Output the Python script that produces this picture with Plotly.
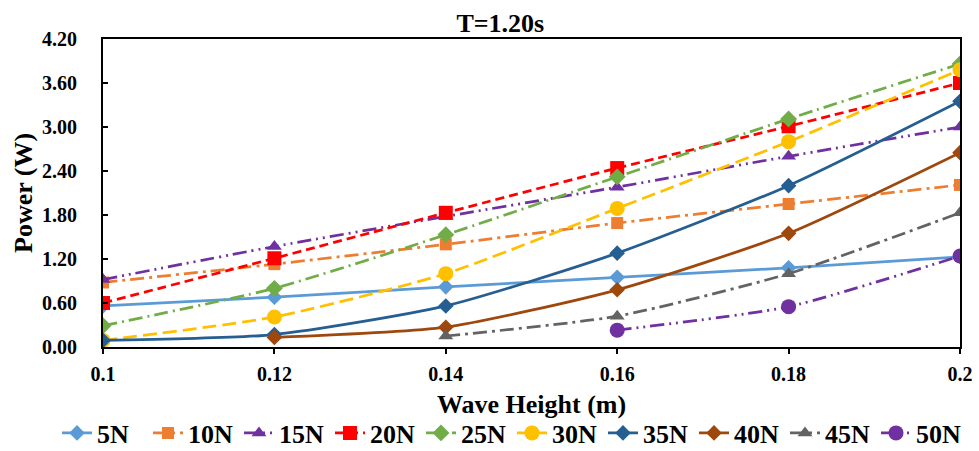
import plotly.graph_objects as go

# Wave heights (m) and power output (W) for each damping force
wave_height = [0.10, 0.12, 0.14, 0.16, 0.18, 0.20]

p_5n = [0.56, 0.68, 0.82, 0.95, 1.08, 1.23]
p_10n = [0.88, 1.13, 1.40, 1.69, 1.95, 2.21]
p_15n = [0.92, 1.37, 1.78, 2.18, 2.60, 3.00]
p_20n = [0.60, 1.21, 1.83, 2.44, 3.01, 3.60]
p_25n = [0.29, 0.80, 1.53, 2.32, 3.11, 3.86]
p_30n = [0.09, 0.41, 1.00, 1.89, 2.80, 3.78]
p_35n = [0.09, 0.17, 0.56, 1.28, 2.20, 3.35]
h_40n = [0.12, 0.14, 0.16, 0.18, 0.20]
p_40n = [0.13, 0.27, 0.78, 1.55, 2.65]
h_45n = [0.14, 0.16, 0.18, 0.20]
p_45n = [0.15, 0.42, 1.00, 1.83]
h_50n = [0.16, 0.18, 0.20]
p_50n = [0.23, 0.55, 1.24]

y_ticks = [0.0, 0.6, 1.2, 1.8, 2.4, 3.0, 3.6, 4.2]
x_ticks = [0.10, 0.12, 0.14, 0.16, 0.18, 0.20]
x_tick_text = ["0.1", "0.12", "0.14", "0.16", "0.18", "0.2"]

series = [
    ("5N", wave_height, p_5n, "#5B9BD5", "diamond", "solid", 12),
    ("10N", wave_height, p_10n, "#ED7D31", "square", "14px,5px,3px,5px", 12),
    ("15N", wave_height, p_15n, "#7030A0", "triangle-up", "14px,5px,2px,5px,2px,5px", 13),
    ("20N", wave_height, p_20n, "#FF0000", "square", "9px,5px", 14),
    ("25N", wave_height, p_25n, "#70AD47", "diamond", "14px,5px,2px,5px", 13),
    ("30N", wave_height, p_30n, "#FFC000", "circle", "14px,6px", 15),
    ("35N", wave_height, p_35n, "#255E91", "diamond", "solid", 12),
    ("40N", h_40n, p_40n, "#9E480E", "diamond", "solid", 12),
    ("45N", h_45n, p_45n, "#636363", "triangle-up", "14px,5px,3px,5px", 13),
    ("50N", h_50n, p_50n, "#7030A0", "circle", "14px,5px,2px,5px,2px,5px", 15),
]

W, H = 979, 451
M_L, M_R, M_T, M_B = 103, 19, 39, 104
plot_w, plot_h = W - M_L - M_R, H - M_T - M_B


def px_to_paper_x(px):
    return (px - M_L) / plot_w


def px_to_paper_y(py):
    return (H - M_B - py) / plot_h


font_family = "Liberation Serif"
tick_font = dict(size=20, family=font_family, color="black", weight="bold")
title_font = dict(size=26, family=font_family, color="black")

fig = go.Figure()
for name, xs, ys, color, symbol, dash, msize in series:
    fig.add_trace(go.Scatter(
        x=xs, y=ys, name=name, mode="lines+markers",
        line=dict(color=color, width=2.75, dash=dash, shape="spline", smoothing=0.6),
        marker=dict(symbol=symbol, size=msize, color=color),
    ))

# Axis titles placed as annotations so the fixed margins stay put
fig.add_annotation(text="<b>Wave Height (m)</b>", xref="paper", yref="paper",
                   x=0.5, y=px_to_paper_y(405), xanchor="center", yanchor="middle",
                   showarrow=False, font=title_font)
fig.add_annotation(text="<b>Power (W)</b>", xref="paper", yref="paper",
                   x=px_to_paper_x(23), y=0.5, xanchor="center", yanchor="middle",
                   textangle=-90, showarrow=False, font=title_font)

fig.update_layout(
    width=W, height=H,
    margin=dict(l=M_L, r=M_R, t=M_T, b=M_B, autoexpand=False),
    paper_bgcolor="white", plot_bgcolor="white",
    font=dict(family=font_family, color="black"),
    title=dict(text="<b>T=1.20s</b>", x=0.511, xanchor="center",
               y=1 - 23 / H, yanchor="middle",
               font=dict(size=26, family=font_family, color="black")),
    xaxis=dict(
        range=[0.1, 0.2], tickvals=x_ticks, ticktext=x_tick_text,
        tickfont=tick_font, ticklabelstandoff=3,
        ticks="outside", ticklen=5, tickwidth=2, tickcolor="black",
        showline=True, linecolor="black", linewidth=2, mirror=True,
        showgrid=False, zeroline=False,
    ),
    yaxis=dict(
        range=[0, 4.2], tickvals=y_ticks, tickformat=".2f",
        tickfont=tick_font, ticklabelstandoff=20,
        ticks="inside", ticklen=5, tickwidth=2, tickcolor="black",
        showline=True, linecolor="black", linewidth=2, mirror=True,
        showgrid=False, zeroline=False,
    ),
    legend=dict(
        orientation="h", xref="paper", x=px_to_paper_x(57), xanchor="left",
        yref="paper", y=px_to_paper_y(433), yanchor="middle",
        font=dict(size=26, family=font_family, color="black", weight="bold"),
        itemwidth=30, tracegroupgap=0,
        entrywidth=46, entrywidthmode="pixels",
    ),
    showlegend=True,
)

fig.write_html("out.html")
